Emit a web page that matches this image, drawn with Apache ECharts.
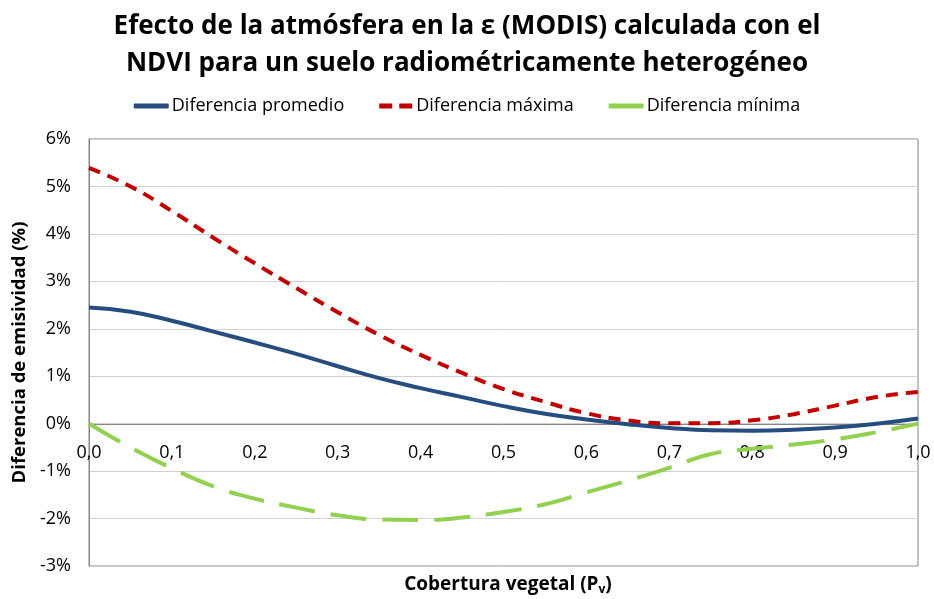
<!DOCTYPE html>
<html>
<head>
<meta charset="utf-8">
<script src="https://cdn.jsdelivr.net/npm/echarts@6/dist/echarts.min.js"></script>
<style>
  html, body { margin: 0; padding: 0; background: #fff; }
  #chart { width: 934px; height: 599px; }
</style>
</head>
<body>
<div id="chart"></div>
<script>
// cobertura vegetal (Pv)
const pv = [0, 0.05, 0.1, 0.15, 0.2, 0.25, 0.3, 0.35, 0.4, 0.45, 0.5,
            0.55, 0.6, 0.65, 0.7, 0.75, 0.8, 0.85, 0.9, 0.95, 1.0];
// diferencias de emisividad (%)
const difPromedio = [2.45, 2.36, 2.17, 1.94, 1.71, 1.47, 1.21, 0.96, 0.75, 0.56, 0.37,
                     0.21, 0.09, -0.01, -0.09, -0.14, -0.15, -0.13, -0.08, 0.0, 0.11];
const difMaxima = [5.39, 5.0, 4.48, 3.92, 3.38, 2.86, 2.35, 1.87, 1.45, 1.07, 0.73,
                   0.46, 0.22, 0.07, 0.01, 0.01, 0.07, 0.2, 0.38, 0.56, 0.67];
const difMinima = [0, -0.5, -0.94, -1.32, -1.58, -1.77, -1.93, -2.02, -2.03, -1.98, -1.86,
                   -1.7, -1.45, -1.2, -0.93, -0.64, -0.53, -0.44, -0.33, -0.18, 0];
const yTicks = [-3, -2, -1, 0, 1, 2, 3, 4, 5, 6];

const pairs = (ys) => pv.map((x, i) => [x, ys[i]]);

const chart = echarts.init(document.getElementById('chart'));
const font = '"Open Sans", "Noto Sans", sans-serif';

const option = {
  animation: false,
  title: [
    {
      text: 'Efecto de la atmósfera en la ε (MODIS) calculada con el\nNDVI para un suelo radiométricamente heterogéneo',
      left: 'center',
      top: 3,
      textStyle: { fontFamily: font, fontWeight: 'bold', fontSize: 26, lineHeight: 37, color: '#000' }
    },
    {
      text: '{b|Cobertura vegetal (P}{s|v}{b|)}',
      left: 503,
      textAlign: 'center',
      top: 569,
      textStyle: {
        rich: {
          b: { fontFamily: font, fontWeight: 'bold', fontSize: 19, color: '#000' },
          s: { fontFamily: font, fontWeight: 'bold', fontSize: 12, color: '#000', padding: [10, 0, 0, 0] }
        }
      }
    }
  ],
  legend: {
    top: 92,
    left: 'center',
    itemWidth: 35,
    itemHeight: 5,
    itemGap: 35,
    textStyle: { fontFamily: font, fontSize: 18, color: '#000', padding: [0, 0, 0, -2] },
    data: [
      { name: 'Diferencia promedio', icon: 'roundRect' },
      { name: 'Diferencia máxima', icon: 'path://M0,0h13v5h-13z M20,0h13v5h-13z' },
      { name: 'Diferencia mínima', icon: 'roundRect' }
    ]
  },
  grid: {
    left: 89, right: 16, top: 139, bottom: 33,
    show: true, borderColor: '#868686', borderWidth: 1
  },
  xAxis: {
    type: 'value',
    min: 0, max: 1, interval: 0.1,
    offset: -142,
    axisLine: { show: true, onZero: false, lineStyle: { color: '#868686' } },
    axisTick: { show: false },
    splitLine: { show: false },
    axisLabel: {
      margin: 20,
      fontFamily: font, fontSize: 18, color: '#000',
      formatter: (v) => v.toFixed(1).replace('.', ',')
    }
  },
  yAxis: {
    type: 'value',
    min: yTicks[0], max: yTicks[yTicks.length - 1], interval: 1,
    name: 'Diferencia de emisividad (%)',
    nameLocation: 'middle',
    nameGap: 57,
    nameTextStyle: { fontFamily: font, fontWeight: 'bold', fontSize: 18.5, color: '#000' },
    axisLine: { show: true, onZero: false, lineStyle: { color: '#868686' } },
    axisTick: { show: false },
    splitLine: { lineStyle: { color: '#d0d0d0' } },
    axisLabel: {
      margin: 18,
      fontFamily: font, fontSize: 18, color: '#000',
      formatter: (v) => v + '%'
    }
  },
  series: [
    {
      name: 'Diferencia promedio', type: 'line', smooth: true, symbol: 'none',
      data: pairs(difPromedio),
      itemStyle: { color: '#254d80' },
      lineStyle: { color: '#254d80', width: 4 }
    },
    {
      name: 'Diferencia máxima', type: 'line', smooth: true, symbol: 'none',
      data: pairs(difMaxima),
      itemStyle: { color: '#c00000' },
      lineStyle: { color: '#c00000', width: 4, type: [12, 8] }
    },
    {
      name: 'Diferencia mínima', type: 'line', smooth: true, symbol: 'none',
      data: pairs(difMinima),
      itemStyle: { color: '#92d050' },
      lineStyle: { color: '#92d050', width: 4, type: [36, 16] }
    }
  ]
};

chart.setOption(option);
</script>
</body>
</html>
